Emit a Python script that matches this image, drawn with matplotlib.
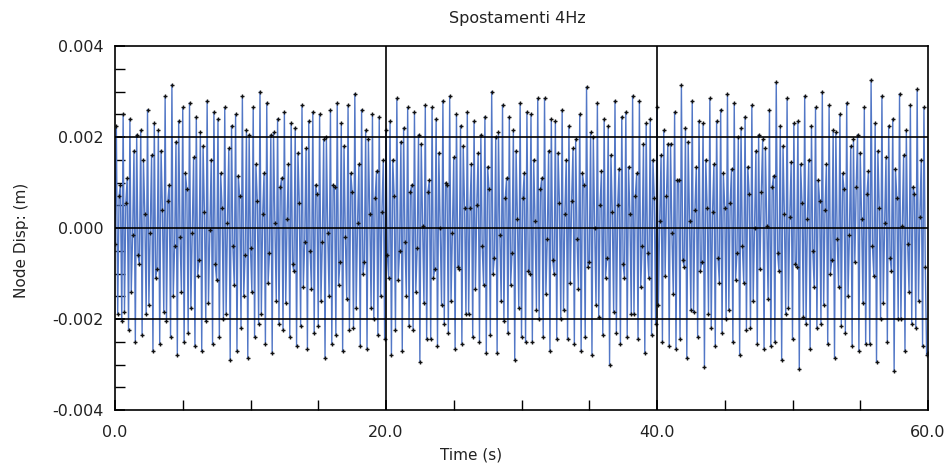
import numpy as np
import matplotlib
matplotlib.use('Agg')
import matplotlib.pyplot as plt
from matplotlib.ticker import MultipleLocator

# node displacement, units of 1e-5 m, one row = 1 s (dt = 0.1 s)
disp_rows = [
    [-35, 225, -190, 70, 95, -205, 250, -185, 55, 110],
    [-225, 240, -140, -15, 170, -250, 205, -60, -80, 215],
    [-235, 150, 30, -190, 260, -170, -10, 160, -270, 230],
    [-110, -90, 215, -255, 170, 40, -185, 290, -205, 60],
    [95, -240, 315, -150, -40, 190, -280, 235, -20, -140],
    [265, -250, 120, 85, -230, 275, -175, -10, 155, -260],
    [245, -105, -70, 210, -270, 180, 35, -205, 280, -165],
    [-5, 150, -255, 255, -80, -115, 240, -240, 120, 45],
    [-200, 265, -190, 10, 175, -290, 225, -40, -125, 250],
    [-270, 115, 70, -220, 290, -150, -60, 215, -285, 205],
    [-45, -140, 265, -240, 140, 60, -210, 300, -190, 30],
    [120, -255, 275, -120, -55, 205, -275, 210, 10, -160],
    [240, -210, 90, 110, -225, 255, -165, 20, 140, -240],
    [230, -80, -95, 220, -260, 165, 55, -215, 270, -130],
    [-30, 175, -265, 235, -50, -135, 255, -230, 95, 75],
    [-215, 250, -160, -30, 195, -285, 200, -10, -150, 260],
    [-255, 95, 90, -235, 275, -125, -75, 230, -270, 180],
    [-20, -155, 270, -225, 120, 80, -220, 295, -175, 10],
    [140, -260, 260, -100, -75, 215, -265, 195, 30, -175],
    [250, -200, 65, 125, -235, 245, -150, 35, 150, -245],
    [215, -60, -110, 235, -280, 150, 70, -225, 285, -115],
    [-50, 190, -270, 220, -30, -150, 265, -215, 80, 95],
    [-225, 255, -140, -45, 205, -295, 185, 5, -165, 270],
    [-245, 80, 105, -245, 265, -110, -90, 240, -260, 165],
    [0, -170, 280, -210, 100, 95, -230, 290, -160, -10],
    [155, -265, 250, -85, -90, 225, -255, 180, 45, -190],
    [255, -190, 45, 140, -240, 235, -135, 50, 165, -250],
    [205, -40, -125, 245, -275, 135, 85, -235, 300, -100],
    [-65, 200, -275, 210, -15, -160, 270, -205, 65, 110],
    [-230, 245, -125, -55, 215, -290, 170, 20, -175, 275],
    [-240, 65, 120, -250, 255, -95, -100, 250, -250, 150],
    [15, -180, 285, -200, 85, 110, -240, 285, -145, -25],
    [170, -270, 240, -70, -100, 235, -245, 165, 55, -200],
    [260, -180, 30, 150, -245, 225, -120, 60, 175, -255],
    [195, -25, -135, 250, -270, 120, 95, -240, 310, -85],
    [-75, 210, -280, 200, 0, -170, 275, -195, 50, 125],
    [-235, 240, -110, -65, 225, -300, 160, 35, -185, 280],
    [-230, 50, 130, -255, 245, -80, -110, 255, -240, 135],
    [30, -190, 290, -190, 70, 120, -245, 280, -130, -40],
    [185, -275, 230, -55, -110, 240, -235, 150, 65, -210],
    [265, -170, 15, 160, -250, 215, -105, 70, 185, -260],
    [185, -10, -145, 255, -265, 105, 105, -245, 315, -70],
    [-85, 220, -285, 190, 15, -180, 280, -185, 40, 135],
    [-240, 235, -95, -75, 230, -305, 150, 45, -190, 285],
    [-220, 35, 140, -260, 235, -65, -120, 260, -230, 120],
    [45, -200, 295, -180, 55, 130, -250, 275, -115, -55],
    [200, -280, 220, -40, -120, 245, -225, 135, 75, -220],
    [270, -160, 0, 170, -255, 205, -90, 80, 195, -265],
    [175, 5, -155, 260, -260, 90, 115, -250, 320, -55],
    [-95, 225, -290, 180, 30, -190, 285, -175, 25, 145],
    [-245, 230, -80, -85, 235, -310, 140, 55, -195, 290],
    [-210, 20, 150, -265, 225, -50, -130, 265, -220, 105],
    [60, -210, 300, -170, 40, 140, -255, 270, -100, -70],
    [215, -285, 210, -25, -130, 250, -215, 120, 85, -230],
    [275, -150, -15, 180, -260, 195, -75, 90, 205, -270],
    [165, 20, -165, 265, -255, 75, 125, -255, 325, -40],
    [-105, 230, -295, 170, 45, -200, 290, -165, 10, 155],
    [-250, 225, -65, -95, 240, -315, 130, 65, -200, 295],
    [-200, 5, 160, -270, 215, -35, -140, 270, -210, 90],
    [75, -220, 305, -160, 25, 150, -260, 265, -85, -280],
]
last_value = -275

disp = np.array([v for row in disp_rows for v in row] + [last_value]) * 1e-5
time = np.linspace(0, 60, len(disp))

x_ticks = [0, 20, 40, 60]
x_labels = ['0.0', '20.0', '40.0', '60.0']
y_ticks = [-0.004, -0.002, 0.0, 0.002, 0.004]
y_labels = ['-0.004', '-0.002', '0.000', '0.002', '0.004']

fig = plt.figure(figsize=(9.5, 4.66), dpi=100)
ax = fig.add_axes([115/950, 1-410/466, 813/950, 364/466])

ax.plot(time, disp, color='#5277c6', lw=1.0, zorder=2)
ax.plot(time, disp, ls='none', marker='+', ms=3.5, mew=1.0, color='#111111', zorder=3)

# grid lines only at the inner major ticks
for gx in x_ticks[1:-1]:
    ax.axvline(gx, color='black', lw=1.2, zorder=4)
for gy in y_ticks[1:-1]:
    ax.axhline(gy, color='black', lw=1.2, zorder=4)

ax.set_xlim(0, 60)
ax.set_ylim(-0.004, 0.004)
ax.set_xticks(x_ticks)
ax.set_xticklabels(x_labels)
ax.set_yticks(y_ticks)
ax.set_yticklabels(y_labels)
ax.xaxis.set_minor_locator(MultipleLocator(5))
ax.yaxis.set_minor_locator(MultipleLocator(0.0005))
ax.tick_params(axis='both', which='both', direction='in', top=False, right=False,
               labelsize=11.5, labelcolor='#222222', color='black')
ax.tick_params(axis='both', which='major', length=7, width=1.2)
ax.tick_params(axis='both', which='minor', length=7, width=1.0)
ax.tick_params(axis='x', which='major', pad=11)
ax.tick_params(axis='y', which='major', pad=8)

for s in ax.spines.values():
    s.set_color('black')
    s.set_linewidth(1.2)

fig.text(517/950, 1-19/466, 'Spostamenti 4Hz', ha='center', va='center', fontsize=11.5, color='#222222')
fig.text(471/950, 1-455/466, 'Time (s)', ha='center', va='center', fontsize=11, color='#222222')
fig.text(22/950, 1-240/466, 'Node Disp: (m)', ha='center', va='center', rotation=90,
         fontsize=11, color='#222222')

fig.savefig('out.png', dpi=100)
